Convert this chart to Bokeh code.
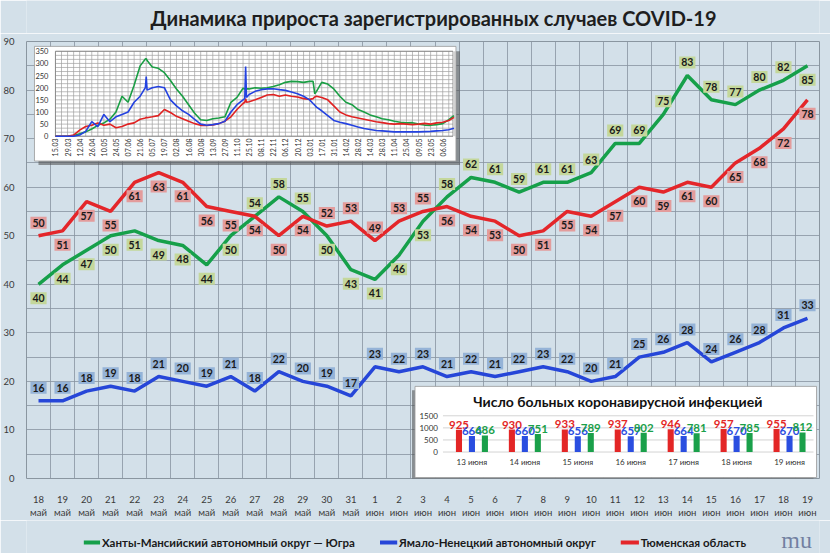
import math
from bokeh.plotting import figure
from bokeh.layouts import column
from bokeh.models import Range1d, FixedTicker, ColumnDataSource, LabelSet
from bokeh.core.properties import value
from bokeh.embed import file_html
from bokeh.resources import INLINE

# ---- main chart: daily growth of registered COVID-19 cases
days = ["18", "19", "20", "21", "22", "23", "24", "25", "26", "27", "28", "29", "30", "31",
        "1", "2", "3", "4", "5", "6", "7", "8", "9", "10", "11", "12", "13", "14", "15",
        "16", "17", "18", "19"]
months = ["май"] * 14 + ["июн"] * 19

hmao = [40, 44, 47, 50, 51, 49, 48, 44, 50, 54, 58, 55, 50, 43, 41, 46, 53, 58, 62, 61, 59,
        61, 61, 63, 69, 69, 75, 83, 78, 77, 80, 82, 85]
yanao = [16, 16, 18, 19, 18, 21, 20, 19, 21, 18, 22, 20, 19, 17, 23, 22, 23, 21, 22, 21, 22,
         23, 22, 20, 21, 25, 26, 28, 24, 26, 28, 31, 33]
tyumen = [50, 51, 57, 55, 61, 63, 61, 56, 55, 54, 50, 54, 52, 53, 49, 53, 55, 56, 54, 53, 50,
          51, 55, 54, 57, 60, 59, 61, 60, 65, 68, 72, 78]

# where the value box sits: a = above the point, b = below
hmao_side = "b" * 9 + "a" * 3 + "b" * 5 + "a" * 15 + "b"
yanao_side = "a" * 33
tyumen_side = "a" + "b" * 11 + "a" * 5 + "b" * 16

title = "Динамика прироста зарегистрированных случаев COVID-19"
names = ["Ханты-Мансийский автономный округ — Югра", "Ямало-Ненецкий автономный округ",
         "Тюменская область"]

# ---- small inset: whole epidemic, days counted from 15.03.2020
ins_days = [0, 7, 14, 21, 28, 35, 42, 49, 56, 63, 70, 77, 84, 91, 98, 104, 105, 106, 112, 119,
            126, 133, 140, 147, 154, 161, 168, 175, 182, 189, 196, 203, 210, 217, 219, 220, 221,
            224, 231, 238, 245, 252, 259, 266, 273, 280, 287, 294, 298, 300, 302, 308, 315, 322,
            329, 336, 343, 350, 357, 364, 371, 378, 385, 392, 399, 406, 413, 420, 427, 434, 441,
            448, 455, 461]
ins_hmao = [0, 0, 0, 3, 10, 18, 30, 45, 55, 70, 100, 165, 140, 210, 290, 318, 320, 312, 285, 280,
            262, 230, 195, 165, 130, 95, 68, 65, 72, 75, 80, 140, 160, 198, 195, 196, 195,
            195, 200, 198, 200, 205, 212, 222, 226, 225, 222, 226, 226, 175, 185, 222, 215, 195,
            165, 140, 130, 110, 100, 88, 80, 72, 68, 62, 58, 55, 56, 50, 46, 45, 48,
            52, 68, 85]
ins_yanao = [0, 0, 0, 0, 5, 20, 60, 40, 90, 60, 80, 90, 100, 140, 165, 200, 246, 190, 200, 205,
             200, 150, 125, 105, 90, 70, 50, 45, 48, 52, 62, 100, 130, 150, 155, 287, 160,
             172, 185, 192, 195, 196, 192, 189, 182, 175, 165, 150, 135, 128, 120, 105, 85, 65,
             58, 52, 45, 38, 32, 28, 24, 22, 20, 18, 18, 18, 18, 18, 19, 20, 22,
             24, 27, 33]
ins_tyumen = [0, 0, 0, 5, 25, 40, 45, 55, 45, 50, 35, 40, 50, 55, 70, 75, 78, 76, 80, 85,
              110, 98, 82, 72, 62, 52, 45, 44, 47, 52, 62, 80, 110, 135, 140, 155, 140,
              142, 150, 160, 170, 172, 165, 170, 165, 162, 155, 152, 155, 162, 165, 160, 150, 125,
              100, 88, 80, 75, 70, 65, 60, 56, 52, 50, 52, 50, 48, 50, 53, 50, 55,
              58, 65, 78]
ins_ticks = ["15.03", "29.03", "12.04", "26.04", "10.05", "24.05", "07.06", "21.06", "05.07",
             "19.07", "02.08", "16.08", "30.08", "13.09", "27.09", "11.10", "25.10", "08.11",
             "22.11", "06.12", "20.12", "03.01", "17.01", "31.01", "14.02", "28.02", "14.03",
             "28.03", "11.04", "25.04", "09.05", "23.05", "06.06"]
ins_yticks = [0, 50, 100, 150, 200, 250, 300, 350]

# ---- bar inset: number of patients
bar_dates = ["13 июня", "14 июня", "15 июня", "16 июня", "17 июня", "18 июня", "19 июня"]
bar_tyumen = [925, 930, 933, 937, 946, 957, 955]
bar_yanao = [664, 660, 656, 657, 664, 670, 670]
bar_hmao = [686, 751, 789, 802, 781, 785, 812]
bar_yticks = [0, 500, 1000, 1500]

GREEN, BLUE, RED = "#16a04a", "#2646d8", "#e4262a"
FONT = "Lato"
BG = "#d3e0e9"

W = 830
HT, HM, HL = 33, 487, 33               # title strip, main chart, legend strip
L, R, T, B = 25, 819, 41, 487          # plot frame, page pixels


def px_to(v0, p0, v1, p1):
    k = (v1 - v0) / (p1 - p0)
    return lambda px: v0 + (px - p0) * k


def strip(h):
    s = figure(width=W, height=h, x_range=Range1d(0, W), y_range=Range1d(0, h),
               output_backend="svg", toolbar_location=None, min_border=0)
    s.axis.visible = False
    s.grid.visible = False
    s.outline_line_color = None
    s.background_fill_color = BG
    s.border_fill_color = BG
    return s


# ---- title strip
top = strip(HT)
top.text(x=[426], y=[HT - 17], text=[title], text_align="center", text_baseline="middle",
         text_font=value(FONT), text_font_size="20px", text_font_style="bold",
         text_color="#1e1e1e")

# ---- main chart
p = figure(width=W, height=HM, x_range=Range1d(-0.5, 32.5), y_range=Range1d(0, 90),
           output_backend="svg", toolbar_location=None,
           min_border_left=L, min_border_right=W - R,
           min_border_top=T - HT, min_border_bottom=HT + HM - B)
p.background_fill_color = BG
p.border_fill_color = BG
p.outline_line_color = "#8a96a0"

p.xgrid.ticker = FixedTicker(ticks=[i - 0.5 for i in range(34)])
p.ygrid.ticker = FixedTicker(ticks=list(range(0, 91, 5)))
for g in (p.xgrid, p.ygrid):
    g.grid_line_color = "#8894a0"
    g.grid_line_alpha = 0.8

p.xaxis.ticker = FixedTicker(ticks=list(range(len(days))))
p.xaxis.major_label_overrides = {i: f"{d}\n{m}" for i, (d, m) in enumerate(zip(days, months))}
p.yaxis.ticker = FixedTicker(ticks=list(range(0, 91, 10)))
for ax in (p.xaxis, p.yaxis):
    ax.axis_line_color = None
    ax.major_tick_line_color = None
    ax.minor_tick_line_color = None
    ax.major_label_text_font = FONT
    ax.major_label_text_font_size = "9.5px"
    ax.major_label_text_color = "#3a3a3a"
p.xaxis.major_label_standoff = 9
p.yaxis.major_label_standoff = 6

x = list(range(len(days)))
series = [(hmao, hmao_side, GREEN, "#c4d79b"), (yanao, yanao_side, BLUE, "#95b3d7"),
          (tyumen, tyumen_side, RED, "#e39c9c")]
for vals, side, col, box in series:
    p.line(x, vals, line_color=col, line_width=3.5)
for vals, side, col, box in series:
    src = ColumnDataSource(dict(x=x, y=vals, t=[str(v) for v in vals],
                                off=[13 if s == "a" else -14 for s in side]))
    # a thick border in the box colour gives the value boxes some padding
    p.add_layout(LabelSet(x="x", y="y", text="t", y_offset="off", source=src,
                          text_align="center", text_baseline="middle",
                          text_font=value(FONT), text_font_size="10.5px",
                          text_font_style="bold", text_color="#1a1a1a",
                          background_fill_color=box, border_line_color=box,
                          border_line_width=4, border_line_join="miter"))

# ---- inset with the whole period
ix = px_to(0, 54, 461, 453)
iy = px_to(0, 137.7, 350, 51)
bx = px_to(0, 471, 6, 789)
by = px_to(0, 460, 1500, 423)
p.extra_x_ranges = {"ix": Range1d(ix(L), ix(R)), "bx": Range1d(bx(L), bx(R))}
p.extra_y_ranges = {"iy": Range1d(iy(B), iy(T)), "by": Range1d(by(B), by(T))}
I = dict(x_range_name="ix", y_range_name="iy")
Bk = dict(x_range_name="bx", y_range_name="by")

p.quad(left=ix(37), right=ix(459), top=iy(51), bottom=iy(167), fill_color="#4a4a4a",
       fill_alpha=0.55, line_color=None, **I)
p.quad(left=ix(33), right=ix(455), top=iy(46), bottom=iy(163), fill_color="white",
       line_color="#9a9a9a", line_width=0.8, **I)
gx = list(range(0, 466, 7))
p.segment(x0=gx, x1=gx, y0=[0] * len(gx), y1=[350] * len(gx), line_color="#a0a0a0",
          line_width=0.7, **I)
gy = [i * 50 / 3 for i in range(22)]
p.segment(x0=[0] * len(gy), x1=[ix(452)] * len(gy), y0=gy, y1=gy, line_color="#a0a0a0",
          line_width=0.7, **I)
p.quad(left=0, right=ix(452), top=350, bottom=0, fill_color=None, line_color="#808080",
       line_width=0.8, **I)
for vals, col in ((ins_hmao, "#1a9e44"), (ins_tyumen, "#e02222"), (ins_yanao, "#2442e0")):
    p.line(ins_days, vals, line_color=col, line_width=1.6, **I)
p.text(x=[14 * i for i in range(len(ins_ticks))], y=[iy(140)] * len(ins_ticks), text=ins_ticks,
       angle=math.pi / 2, text_align="right", text_baseline="middle",
       text_font=value(FONT), text_font_size="7px", text_color="#333333", **I)
p.text(x=[ix(47)] * len(ins_yticks), y=ins_yticks, text=[str(v) for v in ins_yticks],
       text_align="right", text_baseline="middle",
       text_font=value(FONT), text_font_size="7.5px", text_color="#333333", **I)

# ---- bar inset
p.quad(left=bx(411), right=bx(813), top=by(397), bottom=by(489), fill_color="#4a4a4a",
       fill_alpha=0.55, line_color=None, **Bk)
p.quad(left=bx(414), right=bx(816), top=by(393), bottom=by(486), fill_color="white",
       line_color="#9a9a9a", line_width=0.8, **Bk)
p.segment(x0=[bx(442)] * 4, x1=[bx(813)] * 4, y0=bar_yticks, y1=bar_yticks,
          line_color="#c8c8c8", line_width=0.8, **Bk)
d = 0.245
gi = list(range(len(bar_dates)))
for off, vals, col in ((-d, bar_tyumen, "#e32626"), (0, bar_yanao, "#2a4ee0"),
                       (d, bar_hmao, "#1aa04a")):
    xs = [i + off for i in gi]
    p.vbar(x=xs, top=vals, bottom=0, width=0.115, fill_color=col, line_color=None, **Bk)
    p.text(x=xs, y=vals, text=[str(v) for v in vals], y_offset=-1,
           text_align="center", text_baseline="bottom", text_font=value(FONT),
           text_font_size="11.5px", text_font_style="bold", text_color=col, **Bk)
p.text(x=gi, y=[by(470)] * len(gi), text=bar_dates, text_align="center",
       text_baseline="middle", text_font=value(FONT), text_font_size="8px",
       text_color="#333333", **Bk)
p.text(x=[bx(437)] * 4, y=bar_yticks, text=[str(v) for v in bar_yticks], text_align="right",
       text_baseline="middle", text_font=value(FONT), text_font_size="8px",
       text_color="#333333", **Bk)
p.text(x=[bx(617)], y=[by(408)], text=["Число больных коронавирусной инфекцией"],
       text_align="center", text_baseline="middle", text_font=value(FONT),
       text_font_size="14px", text_font_style="bold", text_color="#111111", **Bk)

# ---- legend strip under the chart
leg = strip(HL)
ly = HL - 22
leg.segment(x0=[60, 370, 622], x1=[77, 388, 641], y0=[ly] * 3, y1=[ly] * 3,
            line_color=[GREEN, BLUE, RED], line_width=4)
leg.text(x=[79, 390, 643], y=[ly] * 3, text=names, text_align="left", text_baseline="middle",
         text_font=value(FONT), text_font_size="11.5px", text_font_style="bold",
         text_color="#1a1a1a")
leg.text(x=[806], y=[1], text=["mu"], text_align="center", text_baseline="bottom",
         text_font=value("Liberation Serif"), text_font_size="24px", text_color="#52618a",
         text_alpha=0.75)

open("out.html", "w").write(file_html(column(top, p, leg), INLINE))
